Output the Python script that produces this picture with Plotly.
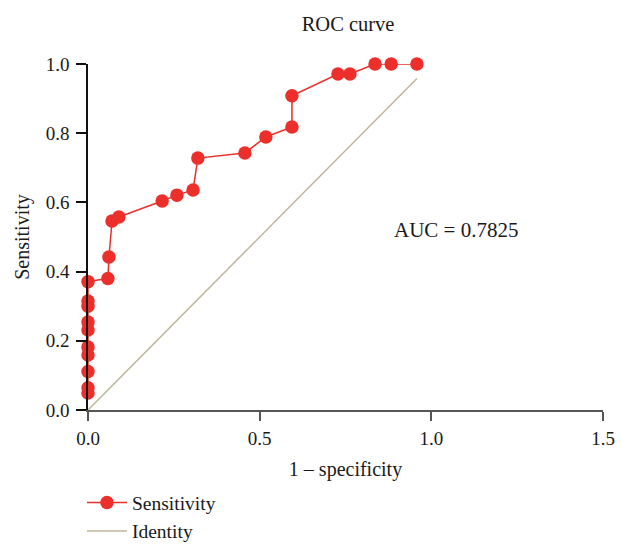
import plotly.graph_objects as go

fpr = [0.0, 0.0, 0.0, 0.0, 0.0, 0.0, 0.0, 0.0, 0.0, 0.0,
       0.058, 0.061, 0.070, 0.090, 0.216, 0.259, 0.306, 0.320, 0.457,
       0.518, 0.594, 0.594, 0.728, 0.763, 0.836, 0.883, 0.958]
tpr = [0.049, 0.064, 0.111, 0.159, 0.182, 0.231, 0.254, 0.30, 0.315, 0.371,
       0.38, 0.442, 0.546, 0.558, 0.604, 0.621, 0.636, 0.728, 0.743,
       0.789, 0.818, 0.908, 0.971, 0.971, 1.0, 1.0, 1.0]
identity_x = [0.0, 0.958]
identity_y = [0.0, 0.958]
auc_text = "AUC = 0.7825"

FONT = "Liberation Serif"
RED = "#ec2f2b"
TAN = "#bdb59a"
INK = "#1a1a1a"

fig = go.Figure()
fig.add_trace(go.Scatter(
    x=fpr, y=tpr, mode="lines+markers", name="Sensitivity",
    line=dict(color=RED, width=1.5),
    marker=dict(color=RED, size=13.5),
    cliponaxis=False,
))
fig.add_trace(go.Scatter(
    x=identity_x, y=identity_y, mode="lines", name="Identity",
    line=dict(color=TAN, width=1.5),
    cliponaxis=False,
))
fig.add_annotation(x=0.886, y=0.52, xanchor="left", yanchor="middle",
                   text=auc_text, showarrow=False,
                   font=dict(family=FONT, size=21, color=INK))

fig.update_layout(
    width=621, height=545,
    margin=dict(l=88, r=18, t=64, b=135, autoexpand=False),
    paper_bgcolor="white", plot_bgcolor="white",
    font=dict(family=FONT, size=19, color=INK),
    title=dict(text="ROC curve", xref="paper", x=0.505, xanchor="center",
               yref="container", y=1 - 24 / 545, yanchor="middle",
               font=dict(family=FONT, size=20.5, color=INK)),
    showlegend=True,
    legend=dict(x=-0.0117, xanchor="left", y=-0.212, yanchor="top",
                font=dict(family=FONT, size=19.5, color=INK),
                itemwidth=40,
                bgcolor="rgba(0,0,0,0)"),
    xaxis=dict(range=[0, 1.5], tickvals=[0, 0.5, 1.0, 1.5],
               ticktext=["0.0", "0.5", "1.0", "1.5"],
               showgrid=False, zeroline=False, automargin=False,
               showline=True, linecolor="#555", linewidth=1.5,
               ticks="outside", ticklen=9, tickcolor="#555", tickwidth=1.5,
               tickfont=dict(family=FONT, size=19, color=INK), ticklabelstandoff=1,
               title=dict(text="1 – specificity", standoff=14,
                          font=dict(family=FONT, size=20, color=INK))),
    yaxis=dict(range=[0, 1.0], tickvals=[0, 0.2, 0.4, 0.6, 0.8, 1.0],
               ticktext=["0.0", "0.2", "0.4", "0.6", "0.8", "1.0"],
               showgrid=False, zeroline=False, automargin=False,
               showline=True, linecolor="#111", linewidth=1.5,
               ticks="outside", ticklen=10, tickcolor="#111", tickwidth=1.5,
               tickfont=dict(family=FONT, size=19, color=INK), ticklabelstandoff=3,
               title=dict(text="Sensitivity", standoff=11,
                          font=dict(family=FONT, size=20, color=INK))),
)

fig.write_html("out.html", config={"displayModeBar": False},
               post_script="document.body.style.margin='0';")
